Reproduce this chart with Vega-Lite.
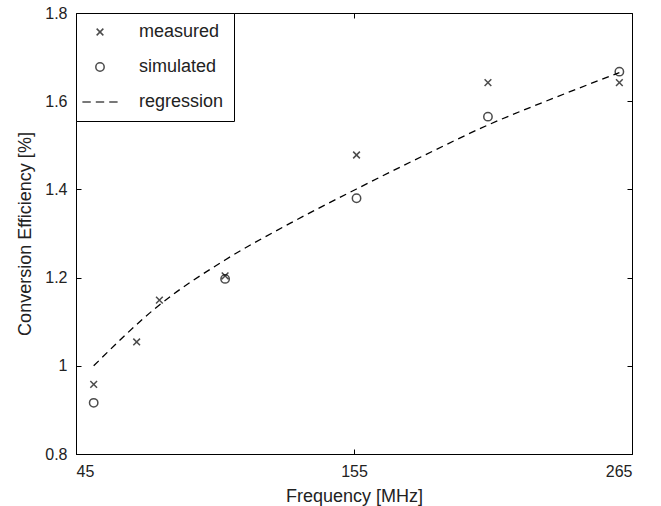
{
  "$schema": "https://vega.github.io/schema/vega-lite/v6.json",
  "width": 556,
  "height": 441,
  "autosize": {"type": "none"},
  "padding": {"left": 76, "top": 13, "right": 29, "bottom": 52},
  "background": "white",
  "config": {
    "font": "Liberation Sans",
    "view": {"stroke": "black", "strokeWidth": 1},
    "axis": {
      "domainColor": "black",
      "tickColor": "black",
      "tickSize": -5,
      "labelPadding": 14,
      "labelFontSize": 16,
      "labelColor": "#222",
      "titleFontSize": 18,
      "titleFontWeight": "normal",
      "titleColor": "#222",
      "grid": false
    }
  },
  "datasets": {
    "points": [
      {"series": "measured", "freq": 52, "eff": 0.958},
      {"series": "measured", "freq": 69, "eff": 1.054},
      {"series": "measured", "freq": 78, "eff": 1.149},
      {"series": "measured", "freq": 104, "eff": 1.204},
      {"series": "measured", "freq": 156, "eff": 1.478},
      {"series": "measured", "freq": 208, "eff": 1.642},
      {"series": "measured", "freq": 260, "eff": 1.642},
      {"series": "simulated", "freq": 52, "eff": 0.916},
      {"series": "simulated", "freq": 104, "eff": 1.197},
      {"series": "simulated", "freq": 156, "eff": 1.38},
      {"series": "simulated", "freq": 208, "eff": 1.565},
      {"series": "simulated", "freq": 260, "eff": 1.667}
    ],
    "regression": [
      {"series": "regression", "freq": 52, "eff": 1.0},
      {"series": "regression", "freq": 78, "eff": 1.138},
      {"series": "regression", "freq": 104, "eff": 1.24},
      {"series": "regression", "freq": 130, "eff": 1.324},
      {"series": "regression", "freq": 156, "eff": 1.401},
      {"series": "regression", "freq": 182, "eff": 1.475},
      {"series": "regression", "freq": 208, "eff": 1.546},
      {"series": "regression", "freq": 234, "eff": 1.607},
      {"series": "regression", "freq": 260, "eff": 1.665}
    ]
  },
  "resolve": {"axis": {"x": "independent", "y": "independent"}},
  "layer": [
    {
      "data": {"name": "regression"},
      "mark": {"type": "line", "color": "black", "strokeDash": [7, 5], "strokeWidth": 1.3, "interpolate": "monotone"},
      "encoding": {
        "x": {"field": "freq", "type": "quantitative", "scale": {"domain": [45, 265], "nice": false, "zero": false},
              "axis": {"title": "Frequency [MHz]", "values": [45, 155, 265], "titlePadding": 8}},
        "y": {"field": "eff", "type": "quantitative", "scale": {"domain": [0.8, 1.8], "nice": false, "zero": false},
              "axis": {"title": "Conversion Efficiency [%]", "values": [0.8, 1, 1.2, 1.4, 1.6, 1.8], "format": "~g", "titlePadding": 10}}
      }
    },
    {
      "data": {"name": "points"},
      "mark": {"type": "point", "filled": false, "color": "black", "size": 45, "strokeWidth": 1.5},
      "encoding": {
        "x": {"field": "freq", "type": "quantitative", "scale": {"domain": [45, 265], "nice": false, "zero": false},
              "axis": {"orient": "top", "values": [45, 155, 265], "labels": false, "title": null, "domain": false}},
        "y": {"field": "eff", "type": "quantitative", "scale": {"domain": [0.8, 1.8], "nice": false, "zero": false},
              "axis": {"orient": "right", "values": [0.8, 1, 1.2, 1.4, 1.6, 1.8], "labels": false, "title": null, "domain": false}},
        "shape": {
          "field": "series", "type": "nominal",
          "scale": {"domain": ["measured", "simulated", "regression"],
                    "range": ["M-1,-1L1,1M-1,1L1,-1", "M-1.25,0A1.25,1.25,0,1,0,1.25,0A1.25,1.25,0,1,0,-1.25,0Z", "M-5.25,0L-2.75,0M-1.25,0L1.25,0M2.75,0L5.25,0"]},
          "legend": {
            "title": null,
            "orient": "top-left",
            "offset": 0,
            "padding": 10,
            "symbolOffset": 5,
            "labelOffset": 30,
            "labelFontSize": 18,
            "labelColor": "#222",
            "labelFont": "Liberation Sans",
            "strokeColor": "black",
            "fillColor": "white",
            "rowPadding": 17,
            "symbolSize": 45,
            "symbolStrokeWidth": 1.5,
            "symbolFillColor": "transparent",
            "symbolStrokeColor": "black",
            "encode": {
              "symbols": {
                "update": {
                  "opacity": {"value": 1},
                  "fill": {"value": "transparent"},
                  "stroke": {"value": "black"},
                  "strokeWidth": {"value": 1.5}
                }
              }
            }
          }
        }
      }
    }
  ]
}
